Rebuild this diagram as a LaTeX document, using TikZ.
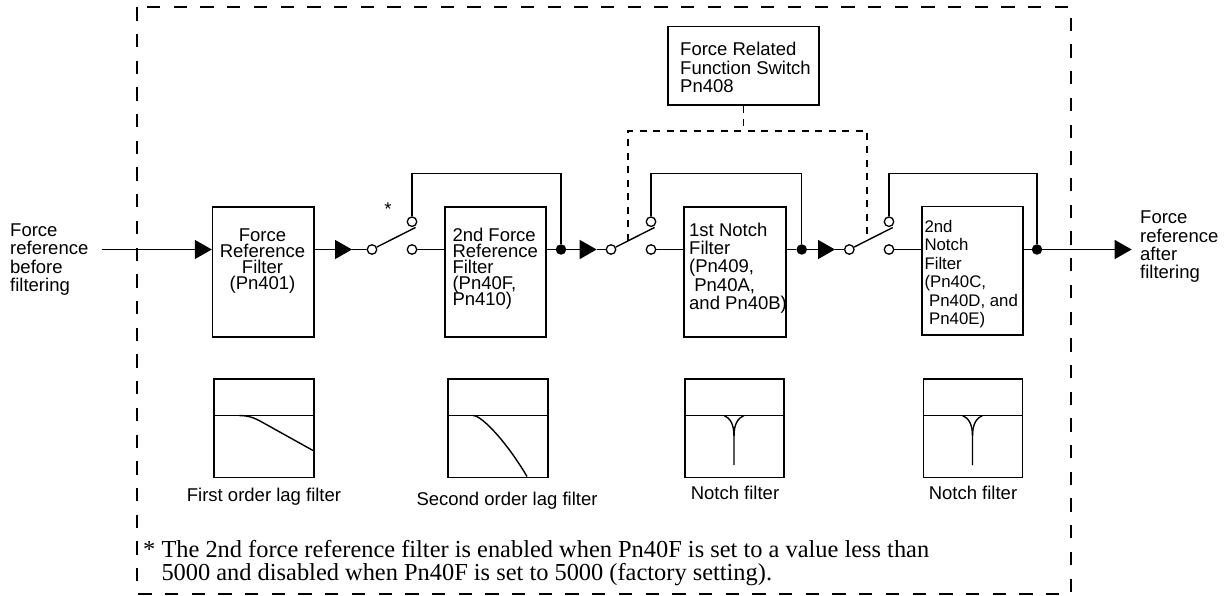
\documentclass[tikz,border=0pt]{standalone}
\usepackage{fontspec}
\setmainfont{Liberation Sans}
\newfontfamily\notefont{Liberation Serif}
\usetikzlibrary{arrows.meta,calc}
\newcommand\mlinesl[1]{\vtop{\let\\\cr\halign{##\hfil\cr#1\crcr}}}
\newcommand\mlinesc[1]{\vtop{\let\\\cr\halign{\hfil##\hfil\cr#1\crcr}}}
\begin{document}
\begin{tikzpicture}[x=1pt,y=-1pt,
  ln/.style={line width=1.4pt},
  blk/.style={draw, line width=1.6pt, rectangle, inner sep=0pt, anchor=north west},
  graph/.style={draw, line width=1.5pt, rectangle, inner sep=0pt, anchor=north west, minimum height=98.5pt},
  lbl/.style={inner sep=0pt, anchor=base west, font=\fontsize{18.5}{18.3}\selectfont\lineskiplimit-\maxdimen},
  boxlbl/.style={inner sep=0pt, anchor=base west, font=\fontsize{18.5}{15.9}\selectfont\lineskiplimit-\maxdimen},
  smallbl/.style={inner sep=0pt, anchor=base west, font=\fontsize{16.8}{18.45}\selectfont\lineskiplimit-\maxdimen},
  gcaption/.style={inner sep=0pt, anchor=base, font=\fontsize{18.5}{18.3}\selectfont},
  sw/.style={circle, draw, fill=white, line width=1.3pt, inner sep=0pt, minimum size=9.5pt},
  dot/.style={circle, fill=black, inner sep=0pt, minimum size=10.5pt},
  tri/.style={ln, -{Triangle[length=17pt,width=19pt]}},
  ctl/.style={line width=1.4pt, dash pattern=on 7pt off 6.5pt},
  bord/.style={line width=2pt, dash pattern=on 13.3pt off 13.4pt},
  crv/.style={line width=1.4pt}
]
\useasboundingbox (0,0) rectangle (1227,596);

% outer dashed frame
\draw[bord] (137,7.3) rectangle (1071,593.5);

% main blocks
\node[blk, minimum width=101.5pt, minimum height=130pt] (b1) at (211.8,206) {};
\node[boxlbl, anchor=base] (b1t) at (262.5,241.7) {\mlinesc{Force\\Reference\\Filter\\(Pn401)}};
\node[blk, minimum width=101pt, minimum height=130pt] (b2) at (444,206) {};
\node[boxlbl] (b2t) at (452.3,241.7) {\mlinesl{2nd Force\\Reference\\Filter\\(Pn40F,\\Pn410)}};
\node[blk, minimum width=102pt, minimum height=130pt] (n1) at (683,206) {};
\node[lbl] (n1t) at (689,236.3) {\mlinesl{1st Notch\\Filter\\(Pn409,\\\ Pn40A,\\and Pn40B)}};
\node[blk, minimum width=101pt, minimum height=128.6pt] (n2) at (921,205.7) {};
\node[smallbl] (n2t) at (924.3,232.5) {\mlinesl{2nd\\Notch\\Filter\\(Pn40C,\\\ Pn40D, and\\\ Pn40E)}};
\node[blk, minimum width=150.7pt, minimum height=78.6pt] (fs) at (667.3,25.7) {};
\node[lbl] (fst) at (680,55.9) {\mlinesl{Force Related\\Function Switch\\Pn408}};

% side labels
\node[lbl] (inl) at (10,236.7) {\mlinesl{Force\\reference\\before\\filtering}};
\node[lbl] (outl) at (1140,224) {\mlinesl{Force\\reference\\after\\filtering}};

% switches
\node[sw] (s1a) at (372,249.5) {};
\node[sw] (s1b) at (412,221.7) {};
\node[sw] (s1c) at (412,249.5) {};
\coordinate (l1) at (415.5,227.5);
\node[sw] (s2a) at (611,249.5) {};
\node[sw] (s2b) at (651,221.7) {};
\node[sw] (s2c) at (651,249.5) {};
\coordinate (l2) at (654.5,227.5);
\node[sw] (s3a) at (849.3,249.5) {};
\node[sw] (s3b) at (889,221.7) {};
\node[sw] (s3c) at (889,249.5) {};
\coordinate (l3) at (892.8,227.5);
\node[inner sep=0pt, font=\fontsize{18.5}{18.5}\selectfont] (ast) at (388,209.5) {*};

% junction dots
\node[dot] (d1) at (561,249.5) {};
\node[dot] (d2) at (801.7,249.5) {};
\node[dot] (d3) at (1037,249.5) {};

% signal path
\coordinate (in) at (101.7,249.5);
\draw[tri] (in) -- (in -| b1.west);
\coordinate (t1) at (352,249.5);
\draw[tri] (t1 -| b1.east) -- (t1);
\draw[ln] (t1) -- (s1a);
\draw[ln] (s1a) -- (l1);
\draw[ln] (s1c) -- (s1c -| b2.west);
\coordinate (byp) at (0,173.3);
\draw[ln] (s1b) -- (s1b |- byp) -| (d1);
\draw[ln] (d1 -| b2.east) -- (d1);
\coordinate (t2) at (596.7,249.5);
\draw[tri] (d1) -- (t2);
\draw[ln] (t2) -- (s2a);
\draw[ln] (s2a) -- (l2);
\draw[ln] (s2c) -- (s2c -| n1.west);
\draw[ln] (s2b) -- (s2b |- byp) -| (d2);
\draw[ln] (d2 -| n1.east) -- (d2);
\coordinate (t3) at (835,249.5);
\draw[tri] (d2) -- (t3);
\draw[ln] (t3) -- (s3a);
\draw[ln] (s3a) -- (l3);
\draw[ln] (s3c) -- (s3c -| n2.west);
\draw[ln] (s3b) -- (s3b |- byp) -| (d3);
\draw[ln] (d3 -| n2.east) -- (d3);
\coordinate (out) at (1131.7,249.5);
\draw[tri] (d3) -- (out);

% switch control (dashed)
\coordinate (cbar) at (0,131);
\coordinate (k2) at ($(s2a)!0.39!(l2)$);
\coordinate (k3) at ($(s3a)!0.41!(l3)$);
\draw[ctl] (fs.south) -- (fs.south |- cbar);
\draw[ctl] (k2) |- (fs.south |- cbar) -| (k3);

% response graphs
\coordinate (mid) at (0,415.5);
\node[graph, minimum width=100pt] (g1) at (213,378) {};
\draw[ln] (g1.west |- mid) -- (g1.east |- mid);
\draw[crv] (239,415.5) .. controls (250.5,415.5) and (256.5,419) .. (264.5,423.5) -- (313,450.5);
\node[gcaption] (g1c) at (264,501) {First order lag filter};

\node[graph, minimum width=100pt] (g2) at (447,378) {};
\draw[ln] (g2.west |- mid) -- (g2.east |- mid);
\draw[crv] (473,415.5) .. controls (482,415.5) and (507,442.5) .. (527,476.5);
\node[gcaption] (g2c) at (507,505) {Second order lag filter};

\node[graph, minimum width=99.3pt] (g3) at (684,378) {};
\draw[ln] (g3.west |- mid) -- (g3.east |- mid);
\draw[crv] (724,415.5) .. controls (730,418) and (734,424) .. (734,436) -- (734,465);
\draw[crv] (744,415.5) .. controls (738,418) and (734,424) .. (734,436);
\node[gcaption] (g3c) at (735,499.3) {Notch filter};

\node[graph, minimum width=99pt] (g4) at (922.7,378) {};
\draw[ln] (g4.west |- mid) -- (g4.east |- mid);
\draw[crv] (962.5,415.5) .. controls (968.5,418) and (972.5,424) .. (972.5,436) -- (972.5,465);
\draw[crv] (982.5,415.5) .. controls (976.5,418) and (972.5,424) .. (972.5,436);
\node[gcaption] (g4c) at (973,499.3) {Notch filter};

% footnote
\node[inner sep=0pt, anchor=base west, font=\notefont\fontsize{24.4}{23}\selectfont\lineskiplimit-\maxdimen] (fn) at (143,557) {\mlinesl{* The 2nd force reference filter is enabled when Pn40F is set to a value less than\\\hphantom{* }5000 and disabled when Pn40F is set to 5000 (factory setting).}};
\end{tikzpicture}
\end{document}
